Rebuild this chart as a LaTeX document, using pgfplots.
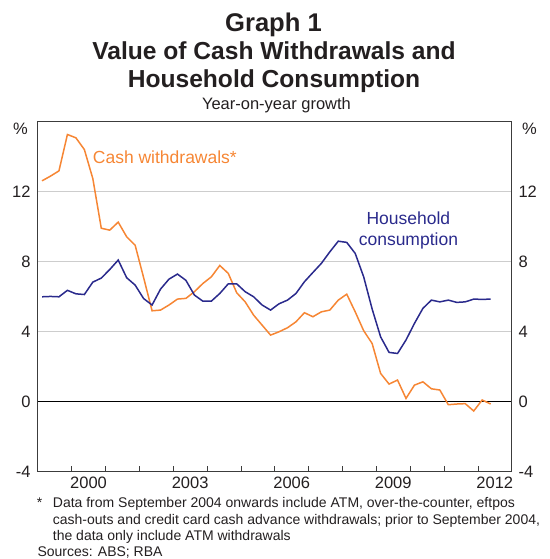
\documentclass[border=0pt]{standalone}
\usepackage{pgfplots}
\pgfplotsset{compat=1.18}
\usepackage{fontspec}
\setmainfont{Liberation Sans}

\definecolor{cashorange}{RGB}{246,134,52}
\definecolor{hhblue}{RGB}{42,42,140}
\definecolor{txt}{RGB}{35,31,32}
\definecolor{axgrey}{RGB}{60,60,60}
\definecolor{gridgrey}{RGB}{205,205,205}

\newcommand{\tickfont}{\fontsize{16.5}{19}\selectfont}

% year-on-year growth, quarterly (plotted mid-quarter)
\pgfplotstableread{
x        y
1999.125 12.63
1999.375 12.90
1999.625 13.20
1999.875 15.28
2000.125 15.09
2000.375 14.42
2000.625 12.76
2000.875 9.92
2001.125 9.81
2001.375 10.27
2001.625 9.43
2001.875 8.95
2002.125 7.10
2002.375 5.20
2002.625 5.24
2002.875 5.53
2003.125 5.87
2003.375 5.91
2003.625 6.29
2003.875 6.76
2004.125 7.14
2004.375 7.79
2004.625 7.34
2004.875 6.23
2005.125 5.71
2005.375 4.95
2005.625 4.38
2005.875 3.81
2006.125 4.00
2006.375 4.23
2006.625 4.57
2006.875 5.09
2007.125 4.86
2007.375 5.14
2007.625 5.24
2007.875 5.81
2008.125 6.15
2008.375 5.14
2008.625 4.06
2008.875 3.33
2009.125 1.62
2009.375 1.01
2009.625 1.24
2009.875 0.19
2010.125 0.95
2010.375 1.14
2010.625 0.74
2010.875 0.67
2011.125 -0.17
2011.375 -0.13
2011.625 -0.11
2011.875 -0.53
2012.125 0.10
2012.375 -0.13
}\cashtable

\pgfplotstableread{
x        y
1999.125 6.00
1999.375 6.02
1999.625 6.00
1999.875 6.37
2000.125 6.17
2000.375 6.13
2000.625 6.84
2000.875 7.07
2001.125 7.56
2001.375 8.10
2001.625 7.09
2001.875 6.67
2002.125 5.90
2002.375 5.53
2002.625 6.44
2002.875 7.01
2003.125 7.30
2003.375 6.94
2003.625 6.10
2003.875 5.75
2004.125 5.75
2004.375 6.19
2004.625 6.74
2004.875 6.74
2005.125 6.29
2005.375 6.00
2005.625 5.53
2005.875 5.24
2006.125 5.60
2006.375 5.81
2006.625 6.19
2006.875 6.86
2007.125 7.39
2007.375 7.91
2007.625 8.57
2007.875 9.18
2008.125 9.11
2008.375 8.48
2008.625 7.14
2008.875 5.30
2009.125 3.71
2009.375 2.82
2009.625 2.76
2009.875 3.53
2010.125 4.48
2010.375 5.34
2010.625 5.81
2010.875 5.71
2011.125 5.81
2011.375 5.68
2011.625 5.71
2011.875 5.87
2012.125 5.85
2012.375 5.87
}\constable

\begin{document}
\begin{tikzpicture}
\path (0,0) rectangle (549pt,559pt);

\begin{axis}[
  at={(37.8pt,87.3pt)}, anchor=south west,
  scale only axis, width=474pt, height=349.8pt,
  xmin=1999, xmax=2013, ymin=-4, ymax=16,
  axis line style={axgrey, line width=0.9pt},
  tick pos=left, tick align=inside,
  xtick={2000,...,2012},
  xticklabels={2000,,,2003,,,2006,,,2009,,,2012},
  major tick length=5.7pt,
  xtick style={axgrey, line width=0.8pt},
  xticklabel style={font=\tickfont, text=txt, inner sep=0pt, anchor=north,
    yshift=-4.8pt, xshift=16.9pt},
  ytick={-4,4,8,12},
  yticklabels={-4,4,8,12},
  extra y ticks={0}, extra y tick labels={0},
  extra y tick style={grid style={black, line width=0.9pt}},
  ytick style={draw=none},
  yticklabel style={font=\tickfont, text=txt, inner sep=0pt, anchor=east, xshift=-7pt},
  ymajorgrids, grid style={gridgrey, line width=0.9pt},
]
\addplot[cashorange, line width=1.5pt] table[x=x, y=y] {\cashtable};
\addplot[hhblue, line width=1.5pt] table[x=x, y=y] {\constable};
\end{axis}

\begin{axis}[
  at={(37.8pt,87.3pt)}, anchor=south west,
  scale only axis, width=474pt, height=349.8pt,
  xmin=1999, xmax=2013, ymin=-4, ymax=16,
  axis x line=none, axis y line*=right,
  axis line style={axgrey, line width=0.9pt},
  ytick={-4,0,4,8,12},
  yticklabels={-4,0,4,8,12},
  ytick style={draw=none},
  yticklabel style={font=\tickfont, text=txt, inner sep=0pt, anchor=west, xshift=6.5pt},
]
\end{axis}

% titles
\node[anchor=base, inner sep=0pt, text=txt, font=\fontsize{25.6}{30}\selectfont\bfseries]
  at (273.5pt,527.3pt) {Graph 1};
\node[anchor=base, inner sep=0pt, text=txt, font=\fontsize{24.6}{29}\selectfont\bfseries]
  at (274pt,499.5pt) {Value of Cash Withdrawals and};
\node[anchor=base, inner sep=0pt, text=txt, font=\fontsize{24.6}{29}\selectfont\bfseries]
  at (274pt,471.7pt) {Household Consumption};
\node[anchor=base, inner sep=0pt, text=txt, font=\tickfont]
  at (276.5pt,449pt) {Year-on-year growth};

% unit labels
\node[anchor=north, inner sep=0pt, text=txt, font=\tickfont] at (20.5pt,436pt) {\%};
\node[anchor=north, inner sep=0pt, text=txt, font=\tickfont] at (529.5pt,436pt) {\%};

% series labels
\node[anchor=base west, inner sep=0pt, text=cashorange, font=\fontsize{17.5}{20}\selectfont]
  at (92.7pt,395pt) {Cash withdrawals*};
\node[anchor=base, inner sep=0pt, text=hhblue, font=\fontsize{17.5}{20}\selectfont]
  at (408.4pt,334pt) {Household};
\node[anchor=base, inner sep=0pt, text=hhblue, font=\fontsize{17.5}{20}\selectfont]
  at (408.4pt,313.5pt) {consumption};

% notes
\begin{scope}[every node/.style={anchor=base west, inner sep=0pt, text=txt,
    font=\fontsize{14}{16.5}\selectfont}]
\node at (36.7pt,51.5pt) {*};
\node at (52.7pt,51.5pt) {Data from September 2004 onwards include ATM, over-the-counter, eftpos};
\node at (52.7pt,34.5pt) {cash-outs and credit card cash advance withdrawals; prior to September 2004,};
\node at (52.7pt,18pt) {the data only include ATM withdrawals};
\node at (37.3pt,2.5pt) {Sources: ABS; RBA};
\end{scope}
\end{tikzpicture}
\end{document}
